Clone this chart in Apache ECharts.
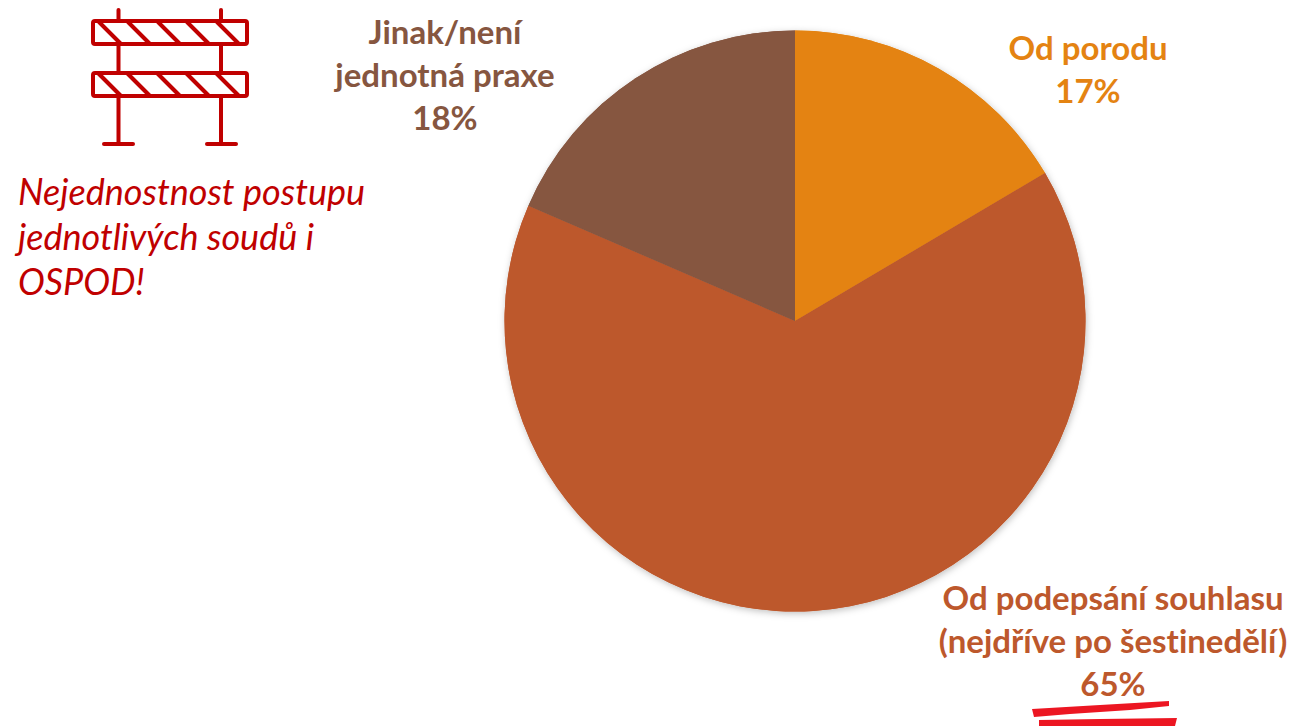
<!DOCTYPE html>
<html><head><meta charset="utf-8">
<style>html,body{margin:0;padding:0;background:#fff}#c{width:1297px;height:726px}#c text{font-variant-ligatures:none}</style>
<script src="https://cdn.jsdelivr.net/npm/echarts@6/dist/echarts.min.js"></script>
</head><body><div id="c"></div>
<script>
const categories = ['Od porodu', 'Od podepsání souhlasu\n(nejdříve po šestinedělí)', 'Jinak/není\njednotná praxe'];
const values = [16.5, 65, 18.5];
const percentLabels = ['17%', '65%', '18%'];
const colors = ['#E48312', '#BD582C', '#865640'];
const note = 'Nejednostnost postupu\njednotlivých soudů i\nOSPOD!';
const labelAnchors = [[1088, 68.5], [1113, 640], [445, 74]];
const red = '#C00000', font = 'Lato, Carlito, "Open Sans", sans-serif';

const line = (x1, y1, x2, y2, w = 4) => ({
  type: 'line', shape: { x1, y1, x2, y2 },
  style: { stroke: red, lineWidth: w, lineCap: 'round' }, silent: true
});
const rail = (y) => ({
  type: 'rect', shape: { x: 93, y, width: 154, height: 23, r: 2 },
  style: { fill: 'none', stroke: red, lineWidth: 4 }, silent: true
});
const diagonalStarts = [99, 128, 158, 187, 217];
const barrier = [
  rail(21), rail(73),
  line(118.5, 10, 118.5, 21), line(221, 10, 221, 21),
  line(118.5, 44, 118.5, 73), line(221, 44, 221, 73),
  line(118.5, 96, 118.5, 144), line(221, 96, 221, 144),
  line(104, 144, 133, 144), line(207, 144, 236, 144)
];
diagonalStarts.forEach(x => {
  barrier.push(line(x, 22, x + 22, 44), line(x, 74, x + 22, 96));
});
const scribbles = [
  { type: 'polygon', shape: { points: [[1032, 709], [1100, 705], [1169, 701], [1169, 706], [1130, 710], [1070, 714], [1034, 717]] },
    style: { fill: '#EC1622' }, silent: true },
  { type: 'polygon', shape: { points: [[1039, 720], [1100, 719], [1177, 718], [1175, 726], [1039, 726]] },
    style: { fill: '#EC1622' }, silent: true }
];

const chart = echarts.init(document.getElementById('c'), null, { renderer: 'svg' });
const pieBase = { type: 'pie', center: [795, 321], radius: [0, 290.5], startAngle: 90, clockwise: true, percentPrecision: 0, silent: true, labelLine: { show: false } };
chart.setOption({
  animation: false,
  backgroundColor: '#fff',
  series: [
    { ...pieBase,
      itemStyle: { shadowBlur: 7, shadowColor: 'rgba(0,0,0,0.25)', shadowOffsetX: 1, shadowOffsetY: 2 },
      label: { show: false },
      data: categories.map((name, i) => ({ name, value: values[i], itemStyle: { color: colors[i] } }))
    },
    { ...pieBase,
      data: categories.map((name, i) => ({
        name, value: values[i],
        itemStyle: { color: colors[i] },
        label: {
          show: true,
          formatter: () => name + '\n' + percentLabels[i],
          color: colors[i],
          fontFamily: font,
          fontWeight: 'bold',
          fontSize: 33,
          lineHeight: 43,
          align: 'center',
          verticalAlign: 'middle'
        }
      })),
      labelLayout: (p) => ({
        x: labelAnchors[p.dataIndex][0],
        y: labelAnchors[p.dataIndex][1],
        align: 'center',
        verticalAlign: 'middle'
      })
    }
  ],
  graphic: [
    ...barrier,
    ...scribbles,
    { type: 'text', left: 18, top: 168, silent: true,
      style: { text: note, fill: red, fontFamily: font, fontStyle: 'italic', fontSize: 36, lineHeight: 45 } }
  ]
});
</script></body></html>
